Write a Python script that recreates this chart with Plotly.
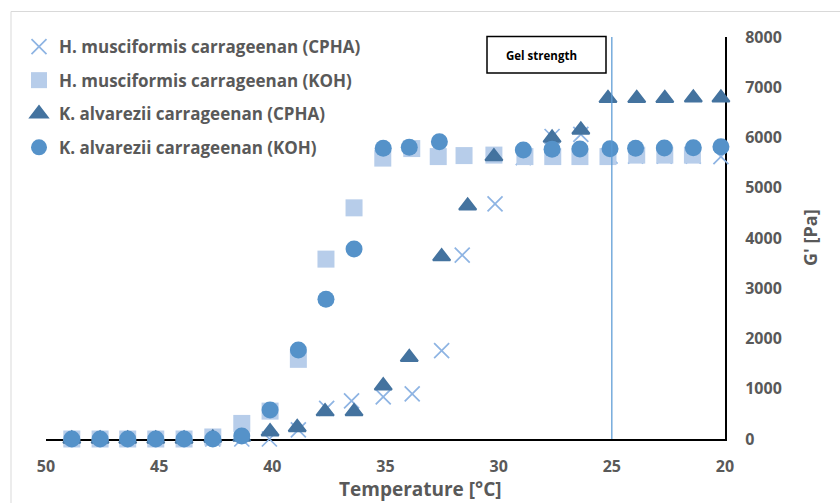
import plotly.graph_objects as go

# ---- data ----
temp_hm_cpha = [48.86, 47.61, 46.39, 45.15, 43.90, 42.63, 41.35, 40.13, 38.85, 37.60, 36.50, 35.10,
                33.82, 32.52, 31.61, 30.16, 28.91, 27.64, 26.37, 25.08, 23.95, 22.68, 21.40, 20.18]
g_hm_cpha = [0, 0, 0, 0, 0, 0, 0, 0, 180, 610, 760, 840,
             900, 1760, 3660, 4680, 5600, 6020, 6060, 5630, 5630, 5630, 5630, 5620]

temp_hm_koh = [48.86, 47.61, 46.39, 45.15, 43.90, 42.63, 41.35, 40.10, 38.85, 37.63, 36.39, 35.12,
               33.84, 32.67, 31.53, 30.21, 28.84, 27.61, 26.41, 25.17, 23.90, 22.66, 21.44]
g_hm_koh = [0, 0, 0, 0, 0, 40, 310, 555, 1585, 3580, 4600, 5590,
            5780, 5620, 5640, 5650, 5620, 5620, 5620, 5620, 5650, 5650, 5650]

temp_ka_cpha = [48.86, 47.61, 46.39, 45.15, 43.90, 42.63, 41.35, 40.10, 38.90, 37.67, 36.39, 35.10,
                33.95, 32.52, 31.37, 30.21, 27.64, 26.37, 25.17, 23.90, 22.66, 21.40, 20.18]
g_ka_cpha = [0, 0, 0, 0, 0, 20, 40, 145, 230, 545, 545, 1060,
             1625, 3630, 4640, 5620, 5990, 6150, 6780, 6780, 6780, 6790, 6790]

temp_ka_koh = [48.86, 47.61, 46.39, 45.15, 43.90, 42.63, 41.35, 40.10, 38.85, 37.63, 36.39, 35.10,
               33.95, 32.62, 28.91, 27.64, 26.41, 25.08, 23.95, 22.68, 21.40, 20.18]
g_ka_koh = [0, 0, 0, 0, 0, 0, 60, 577, 1770, 2780, 3780, 5785,
            5805, 5915, 5750, 5765, 5770, 5775, 5785, 5790, 5797, 5815]

series_names = ["H. musciformis carrageenan (CPHA)", "H. musciformis carrageenan (KOH)",
                "K. alvarezii carrageenan (CPHA)", "K. alvarezii carrageenan (KOH)"]
x_ticks = [50, 45, 40, 35, 30, 25, 20]
y_ticks = [0, 1000, 2000, 3000, 4000, 5000, 6000, 7000, 8000]
gel_temp = 25
x_title = "Temperature [°C]"
y_title = "G' [Pa]"

FONT = "Open Sans"
GREY = "#595959"

fig = go.Figure()
fig.add_trace(go.Scatter(x=temp_hm_cpha, y=g_hm_cpha, mode="markers", name=series_names[0],
                         legendgroup="a", cliponaxis=False,
                         marker=dict(symbol="x-thin", size=15, color="#8EB4E3",
                                     line=dict(color="#8EB4E3", width=1.75))))
fig.add_trace(go.Scatter(x=temp_hm_koh, y=g_hm_koh, mode="markers", name=series_names[1],
                         legendgroup="b", cliponaxis=False,
                         marker=dict(symbol="square", size=17, color="#B7CDEA", line=dict(width=0))))
fig.add_trace(go.Scatter(x=temp_ka_cpha, y=g_ka_cpha, mode="markers", name=series_names[2],
                         legendgroup="c", cliponaxis=False,
                         marker=dict(symbol="triangle-up", size=15, color="#44739F",
                                     line=dict(color="#44739F", width=2))))
fig.add_trace(go.Scatter(x=temp_ka_koh, y=g_ka_koh, mode="markers", name=series_names[3],
                         legendgroup="d", cliponaxis=False,
                         marker=dict(symbol="circle", size=17, color="#5592C9", line=dict(width=0))))

# plot-area geometry helpers (pixels -> paper)
L, R, T, B = 46, 725, 37, 439
def px(x):
    return (x - L) / (R - L)
def py(y):
    return (B - y) / (B - T)

shapes = [
    dict(type="rect", xref="paper", yref="paper", x0=px(11), x1=px(900), y0=py(600), y1=py(11.5),
         line=dict(color="#D9D9D9", width=1), layer="below"),
    dict(type="line", xref="x", yref="y", x0=gel_temp, x1=gel_temp, y0=0, y1=8000,
         line=dict(color="#5B9BD5", width=1.25)),
    dict(type="rect", xref="paper", yref="paper", x0=px(487), x1=px(606), y0=py(73), y1=py(36.5),
         line=dict(color="#000000", width=1.5), fillcolor="white"),
]

fig.update_layout(
    width=840, height=503,
    margin=dict(l=L, r=840 - R, t=T, b=503 - B),
    paper_bgcolor="white", plot_bgcolor="white",
    showlegend=True,
    legend=dict(x=px(19), y=py(29), xanchor="left", yanchor="top",
                traceorder="grouped", tracegroupgap=8.5,
                font=dict(family=FONT, size=17, color=GREY, weight="bold"),
                bgcolor="rgba(0,0,0,0)", borderwidth=0),
    xaxis=dict(range=[50, 20], tickvals=x_ticks, showgrid=False, zeroline=False, automargin=False,
               showline=True, linecolor="black", linewidth=2, ticks="", layer="below traces",
               tickfont=dict(family=FONT, size=16, color=GREY, weight="bold"),
               ticklabelstandoff=12),
    yaxis=dict(range=[0, 8000], tickvals=y_ticks, side="right", showgrid=False, zeroline=False,
               automargin=False,
               showline=True, linecolor="black", linewidth=2, ticks="", layer="below traces",
               tickfont=dict(family=FONT, size=16, color=GREY, weight="bold"),
               ticklabelstandoff=15),
    shapes=shapes,
    annotations=[
        dict(text="Gel strength", xref="paper", yref="paper", x=px(504), y=py(55),
             xanchor="left", yanchor="middle", showarrow=False,
             font=dict(family=FONT, size=11.5, color="black", weight="bold")),
        dict(text=x_title, xref="paper", yref="paper", x=px(420), y=py(489),
             xanchor="center", yanchor="middle", showarrow=False,
             font=dict(family=FONT, size=19, color=GREY, weight="bold")),
        dict(text=y_title, xref="paper", yref="paper", x=px(810), y=py(238),
             xanchor="center", yanchor="middle", showarrow=False, textangle=-90,
             font=dict(family=FONT, size=18, color=GREY, weight="bold")),
    ],
)

fig.write_html("out.html")
